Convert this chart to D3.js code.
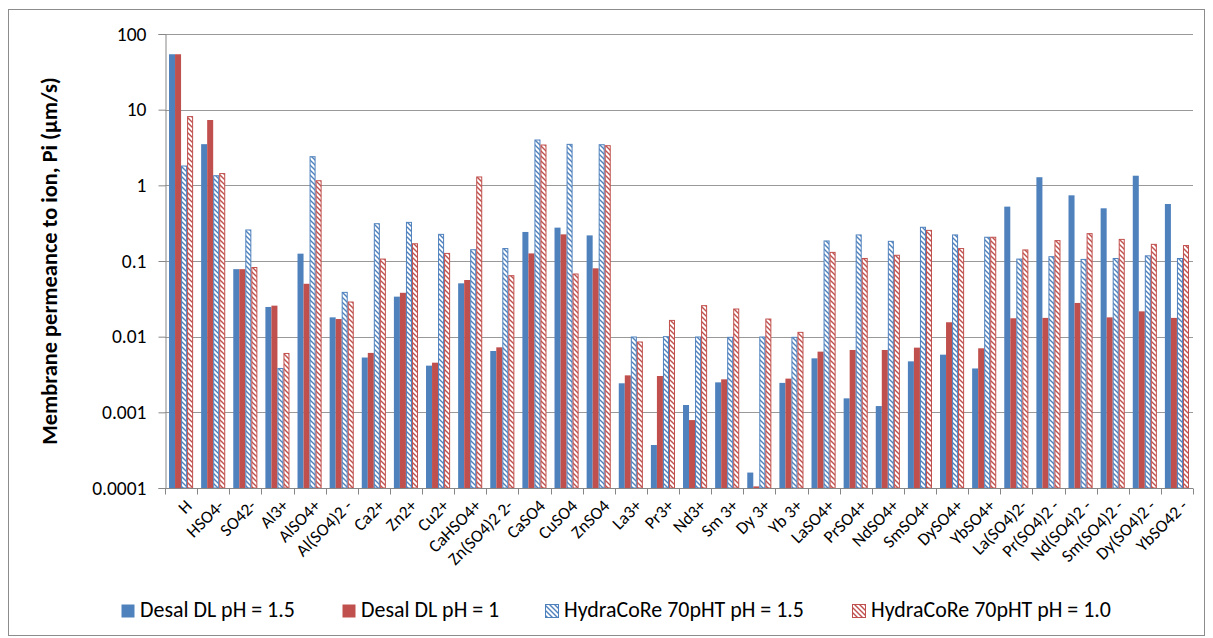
<!DOCTYPE html>
<html>
<head>
<meta charset="utf-8">
<script src="https://cdn.jsdelivr.net/npm/d3@7"></script>
<style>
  html, body { margin: 0; padding: 0; background: #fff; }
  svg { display: block; font-family: Calibri, Carlito, Lato, sans-serif; }
</style>
</head>
<body>
<svg id="chart" width="1213" height="638"></svg>
<script>
const categories = ["H","HSO4-","SO42-","Al3+","AlSO4+","Al(SO4)2 -","Ca2+","Zn2+","Cu2+","CaHSO4+","Zn(SO4)2 2-","CaSO4","CuSO4","ZnSO4","La3+","Pr3+","Nd3+","Sm 3+","Dy 3+","Yb 3+","LaSO4+","PrSO4+","NdSO4+","SmSO4+","DySO4+","YbSO4+","La(SO4)2-","Pr(SO4)2 -","Nd(SO4)2 -","Sm(SO4)2 -","Dy(SO4)2 -","YbSO42 -"];

const desalPH15 = [54, 3.5, 0.078, 0.0247, 0.125, 0.018, 0.0053, 0.0338, 0.00414, 0.0507, 0.00647, 0.242, 0.276, 0.218, 0.00242, 0.00037, 0.00125, 0.00249, 0.00016, 0.00245, 0.00517, 0.00153, 0.00121, 0.00472, 0.00578, 0.0038, 0.523, 1.28, 0.738, 0.497, 1.34, 0.567];
const desalPH1 = [54, 7.3, 0.078, 0.0257, 0.050, 0.0171, 0.0061, 0.038, 0.00453, 0.0561, 0.00723, 0.126, 0.225, 0.080, 0.00308, 0.00302, 0.00079, 0.00273, 0.000105, 0.00279, 0.00634, 0.00667, 0.00667, 0.00716, 0.0155, 0.00702, 0.0175, 0.0177, 0.0279, 0.018, 0.0216, 0.0177];
const hydraPH15 = [1.8, 1.34, 0.257, 0.0038, 2.39, 0.0385, 0.311, 0.324, 0.225, 0.141, 0.146, 3.97, 3.48, 3.44, 0.0099, 0.0100, 0.0099, 0.0098, 0.0099, 0.0098, 0.184, 0.221, 0.182, 0.279, 0.221, 0.206, 0.106, 0.114, 0.105, 0.108, 0.117, 0.108];
const hydraPH10 = [8.1, 1.43, 0.082, 0.006, 1.15, 0.0287, 0.106, 0.169, 0.126, 1.29, 0.064, 3.41, 0.0673, 3.34, 0.0085, 0.0164, 0.0257, 0.0232, 0.0171, 0.0114, 0.130, 0.108, 0.119, 0.254, 0.146, 0.206, 0.140, 0.186, 0.230, 0.193, 0.166, 0.160];

const seriesNames = ["Desal DL pH = 1.5", "Desal DL pH = 1", "HydraCoRe 70pHT pH = 1.5", "HydraCoRe 70pHT pH = 1.0"];
const yTickValues = [0.0001, 0.001, 0.01, 0.1, 1, 10, 100];
const yTickLabels = ["0.0001", "0.001", "0.01", "0.1", "1", "10", "100"];
const yTitle = "Membrane permeance to ion, Pi (µm/s)";

const BLUE = "#4F81BD", RED = "#C0504D";
const seriesStyle = [
  {color: BLUE, hatched: false},
  {color: RED, hatched: false},
  {color: BLUE, hatched: true, pat: "hatchBlue"},
  {color: RED, hatched: true, pat: "hatchRed"}
];
const seriesData = [desalPH15, desalPH1, hydraPH15, hydraPH10];

const svg = d3.select("#chart");
const FONT = "Calibri, Carlito, Lato, sans-serif";

// patterns
const defs = svg.append("defs");
[["hatchBlue", BLUE], ["hatchRed", RED]].forEach(([id, c]) => {
  const p = defs.append("pattern").attr("id", id)
    .attr("patternUnits", "userSpaceOnUse").attr("width", 5).attr("height", 5);
  p.append("rect").attr("width", 5).attr("height", 5).attr("fill", "#fff");
  p.append("path").attr("d", "M0,0 L5,5 M-1,4 L1,6 M4,-1 L6,1")
    .attr("stroke", c).attr("stroke-width", 1.4).attr("fill", "none");
});

// outer border
svg.append("rect").attr("x", 8.5).attr("y", 9.5).attr("width", 1196).attr("height", 626)
  .attr("fill", "#fff").attr("stroke", "#8c8c8c").attr("stroke-width", 1);

const pLeft = 165, pRight = 1193, pTop = 34, pBottom = 488;

const x = d3.scaleBand().domain(categories).range([pLeft, pRight]).paddingInner(0.25).paddingOuter(0.125);
const xs = d3.scaleBand().domain(d3.range(4)).range([0, x.bandwidth()]);
const y = d3.scaleLog().domain([1e-4, 100]).range([pBottom, pTop]);

// gridlines
svg.append("g").selectAll("line").data(yTickValues).join("line")
  .attr("x1", pLeft).attr("x2", pRight)
  .attr("y1", d => Math.round(y(d)) + 0.5).attr("y2", d => Math.round(y(d)) + 0.5)
  .attr("stroke", "#999999").attr("stroke-width", 1.2);

// bars
seriesData.forEach((vals, si) => {
  const st = seriesStyle[si];
  svg.append("g").selectAll("rect").data(vals).join("rect")
    .attr("x", (d, i) => x(categories[i]) + xs(si) + (st.hatched ? 0.5 : 0))
    .attr("width", xs.bandwidth() - (st.hatched ? 1 : 0))
    .attr("y", d => y(d))
    .attr("height", d => y(1e-4) - y(d))
    .attr("fill", st.hatched ? `url(#${st.pat})` : st.color)
    .attr("stroke", st.hatched ? st.color : "none")
    .attr("stroke-width", 1);
});

// y axis
const yAxis = d3.axisLeft(y).tickValues(yTickValues)
  .tickFormat((d, i) => yTickLabels[i]).tickSize(7).tickPadding(12);
const gy = svg.append("g").attr("transform", `translate(${pLeft + 0.5},0)`).call(yAxis);
gy.select(".domain").attr("stroke", "#868686");
gy.selectAll(".tick line").attr("stroke", "#868686");
gy.selectAll(".tick text").attr("font-family", FONT).attr("font-size", 19.5).attr("fill", "#000");

// x axis
const xAxis = d3.axisBottom(x).tickSize(0).tickFormat("");
const gx = svg.append("g").attr("transform", `translate(0,${pBottom + 0.5})`).call(xAxis);
gx.select(".domain").attr("stroke", "#868686").attr("d", `M${pLeft},0H${pRight}`);
const step = x.step();
const bounds = d3.range(categories.length + 1).map(i => pLeft + i * step);
gx.append("g").selectAll("line").data(bounds).join("line")
  .attr("x1", d => Math.round(d) + 0.5).attr("x2", d => Math.round(d) + 0.5)
  .attr("y1", 0).attr("y2", 6).attr("stroke", "#868686");

// x labels
svg.append("g").selectAll("text").data(categories).join("text")
  .attr("transform", d => `translate(${x(d) + x.bandwidth() / 2 + 3},${pBottom + 10}) rotate(-45)`)
  .attr("text-anchor", "end").attr("dy", "0.72em")
  .attr("font-family", FONT).attr("font-size", 17.5).attr("fill", "#000")
  .text(d => d);

function fit(sel, target) {
  const len = sel.node().getComputedTextLength();
  const fs = parseFloat(sel.attr("font-size"));
  if (len > 0) sel.attr("font-size", fs * target / len);
}

// y title
const yt = svg.append("text")
  .attr("transform", `translate(57,261) rotate(-90)`)
  .attr("text-anchor", "middle").attr("font-family", FONT)
  .attr("font-weight", "bold").attr("font-size", 19).attr("fill", "#000")
  .text(yTitle);
fit(yt, 368);

// legend
const legendX = [121, 342, 545, 852];
const lg = svg.append("g");
let legendFs = null;
seriesNames.forEach((name, i) => {
  const st = seriesStyle[i];
  lg.append("rect").attr("x", legendX[i] + 0.5).attr("y", 604.5).attr("width", 13).attr("height", 13)
    .attr("fill", st.hatched ? `url(#${st.pat})` : st.color)
    .attr("stroke", st.hatched ? st.color : "none");
  const t = lg.append("text").attr("x", legendX[i] + 19).attr("y", 617)
    .attr("font-family", FONT).attr("font-size", 19).attr("fill", "#000").text(name);
  if (i === 0) { fit(t, 155); legendFs = t.attr("font-size"); }
  else t.attr("font-size", legendFs);
});
</script>
</body>
</html>
